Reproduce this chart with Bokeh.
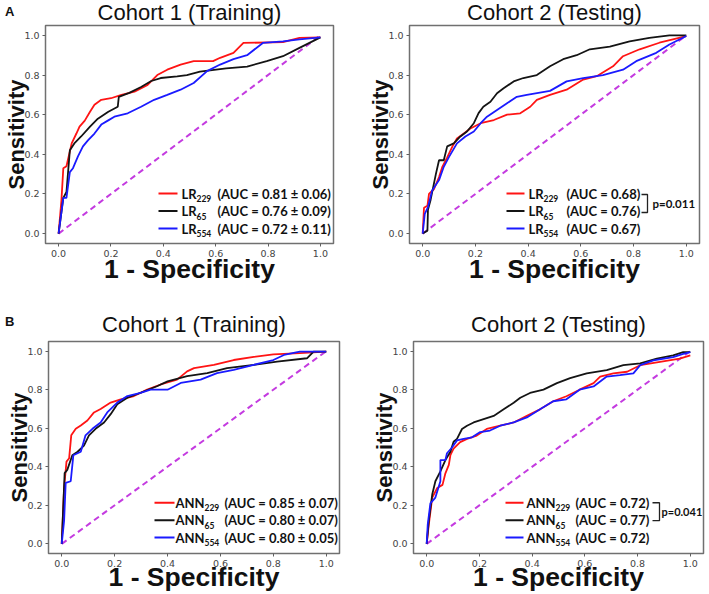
import math
from bokeh.plotting import figure
from bokeh.models import Label, FixedTicker, PrintfTickFormatter, Range1d, Title, Div
from bokeh.layouts import column, row
from bokeh.embed import file_html
from bokeh.resources import INLINE

# ---------------- data ----------------
TICKS = [0.0, 0.2, 0.4, 0.6, 0.8, 1.0]
chance_x = [0.0, 1.0]
chance_y = [0.0, 1.0]

titles = ["Cohort 1 (Training)", "Cohort 2 (Testing)", "Cohort 1 (Training)", "Cohort 2 (Testing)"]
panel_letters = ["A", "B"]
x_label = "1 - Specificity"
y_label = "Sensitivity"
subs = ["229", "65", "554"]
model_a = "LR"
model_b = "ANN"
tl_auc = ["(AUC = 0.81 ± 0.06)", "(AUC = 0.76 ± 0.09)", "(AUC = 0.72 ± 0.11)"]
tr_auc = ["(AUC = 0.68)", "(AUC = 0.76)", "(AUC = 0.67)"]
bl_auc = ["(AUC = 0.85 ± 0.07)", "(AUC = 0.80 ± 0.07)", "(AUC = 0.80 ± 0.05)"]
br_auc = ["(AUC = 0.72)", "(AUC = 0.77)", "(AUC = 0.72)"]
tr_p = "p=0.011"
br_p = "p=0.041"

# Cohort 1 (Training) - LR
tl_r_x = [0, .011, .018, .03, .05, .068, .08, .10, .12, .137, .163, .20, .24, .29, .34, .377, .415, .466, .516, .59, .617, .668, .706, .857, .92, 1.0]
tl_r_y = [0, .17, .33, .34, .455, .505, .54, .57, .615, .65, .675, .683, .70, .716, .75, .80, .827, .853, .87, .87, .887, .912, .962, .966, .988, .99]
tl_k_x = [0, .018, .03, .043, .06, .086, .12, .15, .19, .226, .23, .27, .315, .354, .39, .453, .49, .54, .64, .72, .795, .857, .92, 1.0]
tl_k_y = [0, .18, .21, .42, .455, .49, .54, .58, .615, .64, .69, .71, .74, .77, .785, .793, .80, .817, .834, .843, .87, .895, .937, .99]
tl_b_x = [0, .018, .03, .043, .055, .074, .093, .112, .137, .163, .188, .213, .264, .315, .365, .415, .466, .516, .567, .617, .668, .72, .78, .857, .92, 1.0]
tl_b_y = [0, .18, .18, .31, .33, .39, .44, .47, .505, .55, .57, .59, .607, .64, .675, .70, .726, .76, .82, .853, .88, .90, .962, .97, .98, .99]

# Cohort 2 (Testing) - LR
tr_r_x = [0, .005, .018, .024, .043, .062, .074, .093, .113, .13, .156, .181, .22, .27, .32, .37, .408, .433, .483, .546, .609, .66, .722, .76, .823, .898, 1.0]
tr_r_y = [0, .13, .14, .20, .225, .285, .335, .385, .44, .48, .505, .53, .557, .573, .60, .607, .64, .675, .70, .726, .777, .794, .844, .895, .93, .963, .997]
tr_k_x = [0, .018, .02, .03, .05, .062, .08, .093, .118, .143, .168, .194, .212, .23, .257, .282, .307, .345, .382, .433, .483, .533, .584, .634, .71, .785, .86, .936, 1.0]
tr_k_y = [0, .015, .12, .17, .30, .37, .37, .44, .455, .49, .515, .557, .608, .64, .665, .708, .733, .768, .785, .80, .844, .88, .90, .93, .943, .97, .988, 1.0, 1.0]
tr_b_x = [0, .008, .02, .036, .062, .08, .10, .13, .162, .194, .22, .244, .282, .32, .357, .395, .483, .546, .609, .684, .76, .81, .886, .936, 1.0]
tr_b_y = [0, .10, .134, .218, .27, .337, .387, .455, .49, .515, .557, .59, .624, .658, .69, .70, .72, .768, .785, .80, .827, .87, .912, .954, .997]

# Cohort 1 (Training) - ANN
bl_r_x = [0, .009, .018, .028, .036, .053, .072, .097, .122, .147, .185, .223, .273, .323, .374, .436, .474, .50, .575, .65, .726, .80, .90, 1.0]
bl_r_y = [0, .29, .427, .444, .563, .597, .614, .64, .682, .70, .733, .75, .767, .80, .827, .852, .895, .912, .929, .954, .97, .983, .99, .997]
bl_k_x = [0, .011, .021, .04, .06, .084, .103, .128, .16, .185, .21, .248, .298, .36, .40, .474, .55, .625, .726, .814, .927, .952, 1.0]
bl_k_y = [0, .367, .384, .46, .478, .51, .563, .597, .63, .673, .724, .758, .784, .818, .843, .87, .886, .912, .929, .946, .963, .997, .997]
bl_b_x = [0, .009, .015, .034, .044, .072, .09, .116, .147, .172, .21, .248, .298, .336, .40, .45, .525, .587, .65, .726, .80, .84, .90, 1.0]
bl_b_y = [0, .12, .316, .325, .46, .478, .563, .597, .63, .682, .733, .767, .784, .80, .80, .835, .852, .886, .903, .929, .954, .98, .997, .997]

# Cohort 2 (Testing) - ANN
br_r_x = [0, .008, .021, .04, .06, .071, .084, .09, .102, .127, .153, .19, .228, .279, .33, .38, .43, .48, .53, .58, .633, .658, .708, .76, .81, .885, .96, 1.0]
br_r_y = [0, .10, .24, .29, .306, .366, .41, .46, .494, .528, .545, .562, .596, .613, .63, .664, .698, .74, .766, .80, .834, .868, .885, .893, .927, .944, .961, .978]
br_k_x = [0, .008, .021, .033, .052, .071, .09, .102, .115, .134, .153, .178, .216, .254, .292, .33, .355, .392, .443, .494, .544, .607, .683, .746, .81, .873, .935, .973, 1.0]
br_k_y = [0, .12, .256, .325, .376, .435, .478, .53, .545, .596, .613, .63, .647, .664, .698, .732, .758, .783, .80, .834, .86, .885, .902, .927, .936, .961, .978, .995, .995]
br_b_x = [0, .004, .014, .033, .052, .052, .071, .077, .096, .115, .14, .172, .203, .24, .279, .33, .38, .43, .48, .53, .58, .633, .683, .733, .784, .81, .86, .935, .973, 1.0]
br_b_y = [0, .10, .21, .24, .325, .435, .435, .47, .50, .537, .545, .553, .58, .588, .613, .63, .656, .698, .74, .75, .80, .817, .868, .876, .885, .927, .952, .969, .986, .995]

# ---------------- styling ----------------
RED = "#ff1414"
BLACK = "#141414"
BLUE = "#1a1aff"
DIAG = "#c43be0"
LEG_FONT = "Lato"
LAB_FONT = "Liberation Sans"


class Panel:
    def __init__(self, ox, oy, w, h, bl, br, bt, bb, title, title_standoff, title_valign, xlab_standoff):
        self.fx0 = ox + bl
        self.fx1 = ox + w - br
        self.fy0 = oy + bt
        self.fy1 = oy + h - bb
        p = figure(width=w, height=h, x_range=Range1d(-0.05, 1.05), y_range=Range1d(-0.05, 1.05),
                   output_backend="svg", toolbar_location=None, title=None,
                   min_border_left=bl, min_border_right=br, min_border_top=bt, min_border_bottom=bb)
        p.grid.visible = False
        p.outline_line_color = "#707070"
        p.outline_line_width = 1.5
        p.background_fill_color = "white"
        p.border_fill_color = "white"
        p.add_layout(Title(text=title, align="center", text_font=LAB_FONT, text_font_size="22px",
                           text_font_style="normal", text_color="#111111",
                           standoff=title_standoff, vertical_align=title_valign), "above")
        for ax in (p.xaxis, p.yaxis):
            ax.ticker = FixedTicker(ticks=TICKS)
            ax.formatter = PrintfTickFormatter(format="%.1f")
            ax.major_label_text_font = "DejaVu Sans"
            ax.major_label_text_font_size = "9.5px"
            ax.major_label_text_color = "#444444"
            ax.axis_line_color = None
            ax.major_tick_line_color = "#606060"
            ax.major_tick_out = 3
            ax.major_tick_in = 0
            ax.minor_tick_line_color = None
            ax.major_label_standoff = 3
            ax.axis_label_text_font = LAB_FONT
            ax.axis_label_text_font_style = "bold"
            ax.axis_label_text_color = "#111111"
        p.xaxis.axis_label = x_label
        p.xaxis.axis_label_text_font_size = "26.5px"
        p.xaxis.axis_label_standoff = xlab_standoff
        p.yaxis.axis_label = y_label
        p.yaxis.axis_label_text_font_size = "22px"
        p.yaxis.axis_label_standoff = -8
        self.p = p

    def d(self, px, py):
        x = -0.05 + (px - self.fx0) / (self.fx1 - self.fx0) * 1.1
        y = 1.05 - (py - self.fy0) / (self.fy1 - self.fy0) * 1.1
        return x, y

    def label(self, px, py, text, size, font=LEG_FONT, style="bold", align="left"):
        self.p.add_layout(Label(x=px - self.fx0, y=self.fy1 - py, x_units="screen", y_units="screen",
                                text=text, text_font=font, text_font_size=size,
                                text_font_style=style, text_align=align,
                                text_baseline="middle", text_color="#111111"))


def build(panel, curves, leg, model, auc, pval=None):
    p = panel.p
    p.line(chance_x, chance_y, line_color=DIAG, line_width=2, line_dash="6 4")
    for (xs, ys, col) in curves:
        p.line(xs, ys, line_color=col, line_width=1.8)
    lx0, lx1, tx, sx, ax_, offs = leg
    cols = [RED, BLACK, BLUE]
    for i, off in enumerate(offs):
        ry = panel.fy1 - off
        x0, y0 = panel.d(lx0, ry)
        x1, _ = panel.d(lx1, ry)
        p.segment(x0=[x0], y0=[y0], x1=[x1], y1=[y0], line_color=cols[i], line_width=2)
        panel.label(tx, ry, model, "13px")
        panel.label(sx, ry + 5, subs[i], "8.5px")
        panel.label(ax_, ry, auc[i], "13px")
    if pval is not None:
        bx0, bx1, boff0, boff1, ptx, poff, ptxt, psize = pval
        xa, ya = panel.d(bx0, panel.fy1 - boff0)
        xb, yb = panel.d(bx1, panel.fy1 - boff1)
        p.line([xa, xb, xb, xa], [ya, ya, yb, yb], line_color="#222222", line_width=1.3)
        panel.label(ptx, panel.fy1 - poff, ptxt, psize)


# page geometry (the page starts at 0,0)
tl = Panel(0, 0, 358, 286, 45, 25, 25, 43, titles[0], -2, "top", -6)
tr = Panel(358, 0, 351, 286, 51, 10, 25, 43, titles[1], -2, "top", -6)
bl = Panel(0, 286, 358, 308, 48, 19, 55, 40, titles[2], 10, "bottom", -8)
br = Panel(358, 286, 351, 308, 55, 6, 55, 40, titles[3], 10, "bottom", -8)

build(tl, [(tl_r_x, tl_r_y, RED), (tl_k_x, tl_k_y, BLACK), (tl_b_x, tl_b_y, BLUE)],
      (158, 177, 181, 196, 217, [50, 32.5, 15]), model_a, tl_auc)
build(tr, [(tr_r_x, tr_r_y, RED), (tr_k_x, tr_k_y, BLACK), (tr_b_x, tr_b_y, BLUE)],
      (506, 524, 528, 543, 566, [50, 32.5, 15]), model_a, tr_auc,
      pval=(641, 647, 49, 31, 652, 40, tr_p, "11.5px"))
build(bl, [(bl_r_x, bl_r_y, RED), (bl_k_x, bl_k_y, BLACK), (bl_b_x, bl_b_y, BLUE)],
      (154, 174, 175, 204, 224, [51, 33.5, 16]), model_b, bl_auc)
build(br, [(br_r_x, br_r_y, RED), (br_k_x, br_k_y, BLACK), (br_b_x, br_b_y, BLUE)],
      (505, 523, 526, 555, 575, [51, 33.5, 16]), model_b, br_auc,
      pval=(652, 659, 51, 33, 661, 42, br_p, "11px"))

letter_style = {"position": "absolute", "font-family": "Liberation Sans", "font-weight": "bold",
                "font-size": "13px", "color": "#111111", "z-index": "10"}
div_a = Div(text=panel_letters[0], width=14, height=16, styles=dict(letter_style, left="0px", top="-2px"))
div_b = Div(text=panel_letters[1], width=14, height=16, styles=dict(letter_style, left="0px", top="308px"))

layout = column(row(tl.p, tr.p), row(bl.p, br.p), div_a, div_b)
open("out.html", "w").write(file_html(layout, INLINE))
